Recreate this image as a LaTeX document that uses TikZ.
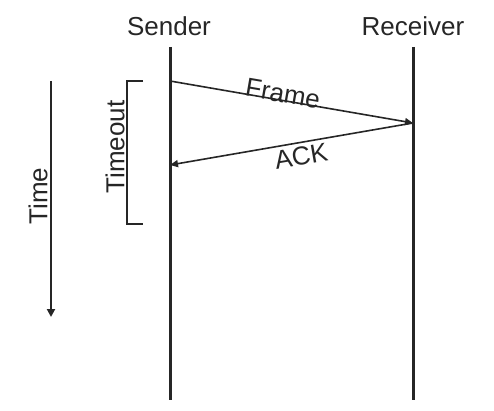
\documentclass[tikz,border=0pt]{standalone}
\usepackage{fontspec}
\setmainfont{Liberation Sans}
\usepackage{tikz}
\usetikzlibrary{arrows.meta}
\definecolor{ink}{HTML}{262626}
\tikzset{
    lane/.style={line width=3pt, draw=ink},
    msg/.style={line width=1.6pt, draw=ink, -{Triangle[length=8pt,width=7pt]}},
    lbl/.style={font=\fontsize{26}{30}\selectfont, text=ink, inner sep=0pt}
}
\begin{document}
\begin{tikzpicture}[x=1pt,y=-1pt]
\useasboundingbox (0,0) rectangle (494,411);

%%% lignes de vie

% sender
\node[lbl] (sender) at (169,26) {Sender};
\coordinate (stop) at (170,47);
\coordinate (sbot) at (170,400);
\draw[lane] (stop) -- (sbot);

% receiver
\node[lbl] (receiver) at (413,26) {Receiver};
\coordinate (rtop) at (413,47);
\coordinate (rbot) at (413,400);
\draw[lane] (rtop) -- (rbot);

%%% messages

\coordinate (frameout) at (170,81);
\coordinate (framein) at (413,123);
\coordinate (ackin) at (170,165);
\draw[msg] (frameout) -- (framein) node[lbl, pos=0.46, above, sloped, yshift=-3pt] (frame) {Frame};
\draw[msg] (framein) -- (ackin) node[lbl, pos=0.47, below, sloped, yshift=-4pt] (ack) {ACK};

%%% timeout

\coordinate (ta) at (143,81);
\coordinate (tb) at (127,81);
\coordinate (tc) at (127,224);
\coordinate (td) at (143,224);
\draw[line width=2pt, draw=ink] (ta) -- (tb) -- (tc) -- (td);
\node[lbl, rotate=90] (timeout) at (115,147) {Timeout};

%%% temps

\coordinate (tstart) at (51,81);
\coordinate (tend) at (51,317);
\draw[line width=2pt, draw=ink, -{Triangle[length=8pt,width=8pt]}] (tstart) -- (tend);
\node[lbl, rotate=90] (time) at (38,196) {Time};
\end{tikzpicture}
\end{document}
